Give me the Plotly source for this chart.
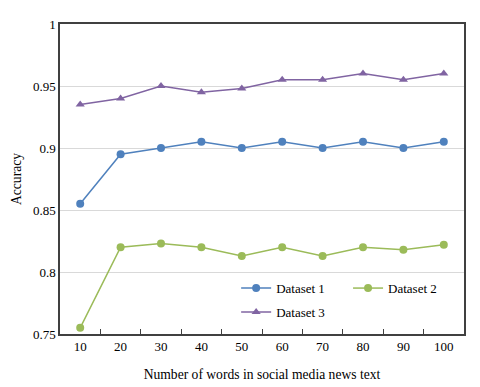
import plotly.graph_objects as go

words = ["10", "20", "30", "40", "50", "60", "70", "80", "90", "100"]
dataset1 = [0.855, 0.895, 0.900, 0.905, 0.900, 0.905, 0.900, 0.905, 0.900, 0.905]
dataset2 = [0.755, 0.820, 0.823, 0.820, 0.813, 0.820, 0.813, 0.820, 0.818, 0.822]
dataset3 = [0.935, 0.940, 0.950, 0.945, 0.948, 0.955, 0.955, 0.960, 0.955, 0.960]

font = "Liberation Serif"

fig = go.Figure()
fig.add_trace(go.Scatter(x=words, y=dataset1, name="Dataset 1", mode="lines+markers",
                         line=dict(color="#4F81BD", width=1.5), legend="legend",
                         marker=dict(symbol="circle", size=8, color="#4F81BD")))
fig.add_trace(go.Scatter(x=words, y=dataset2, name="Dataset 2", mode="lines+markers",
                         line=dict(color="#9BBB59", width=1.5), legend="legend2",
                         marker=dict(symbol="circle", size=8, color="#9BBB59")))
fig.add_trace(go.Scatter(x=words, y=dataset3, name="Dataset 3", mode="lines+markers",
                         line=dict(color="#8064A2", width=1.5), legend="legend3",
                         marker=dict(symbol="triangle-up", size=8, color="#8064A2")))

leg = dict(xanchor="left", yanchor="middle", bgcolor="rgba(0,0,0,0)",
           font=dict(family=font, size=13, color="black"), itemwidth=30, visible=True)

# page body has an 8px margin, so the figure is drawn 8px smaller
fig.update_layout(
    width=472, height=379,
    margin=dict(l=52, r=16, t=16, b=53, autoexpand=False),
    paper_bgcolor="white", plot_bgcolor="white",
    showlegend=True,
    font=dict(family=font, size=13, color="black"),
    legend=dict(x=0.436, y=0.148, **leg),
    legend2=dict(x=0.713, y=0.148, **leg),
    legend3=dict(x=0.436, y=0.071, **leg),
    xaxis=dict(type="category", range=[-0.5, 9.5], tickson="boundaries",
               ticks="inside", ticklen=5, tickcolor="#404040", tickwidth=1.2,
               tickfont=dict(family=font, size=13, color="black"),
               automargin=False,
               showline=True, linecolor="#404040", linewidth=1.5, mirror=True,
               showgrid=False,
               title=dict(text="Number of words in social media news text",
                          font=dict(family=font, size=13.6), standoff=16)),
    yaxis=dict(range=[0.75, 1.0], dtick=0.05, showgrid=True, gridcolor="#D9D9D9",
               gridwidth=1, showline=True, linecolor="#404040", linewidth=1.5,
               mirror=True, ticks="", zeroline=False, automargin=False,
               tickfont=dict(family=font, size=13, color="black"),
               title=dict(text="Accuracy", font=dict(family=font, size=13.6), standoff=8)),
)

fig.write_html("out.html")
